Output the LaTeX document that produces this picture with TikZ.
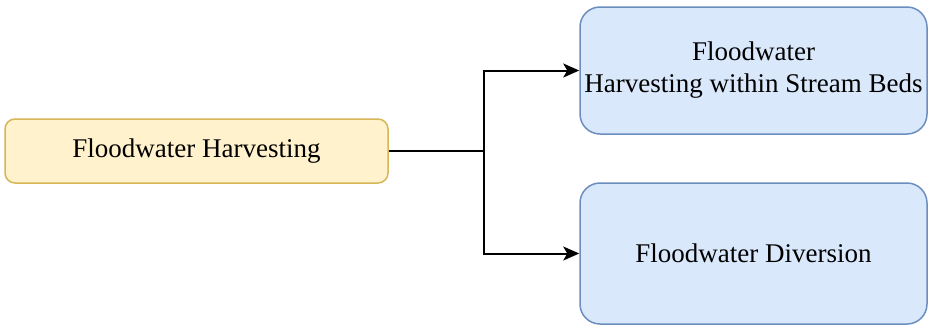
\documentclass[tikz,border=0pt]{standalone}
\usepackage{fontspec}
\setmainfont{Liberation Serif}
\usetikzlibrary{arrows.meta}
\definecolor{yfill}{HTML}{FFF2CC}
\definecolor{ydraw}{HTML}{D6B656}
\definecolor{bfill}{HTML}{DAE8FC}
\definecolor{bdraw}{HTML}{6C8EBF}
\tikzset{
  x=1pt, y=-1pt,
  yellowbox/.style={draw=ydraw, fill=yfill, line width=1.5pt, rounded corners=10pt,
    inner sep=0pt, align=center, font=\fontsize{27}{32}\selectfont},
  bluebox/.style={draw=bdraw, fill=bfill, line width=1.5pt, rounded corners=20pt,
    inner sep=0pt, align=center, font=\fontsize{27}{32}\selectfont},
  link/.style={draw=black, line width=2pt, -{Stealth[length=16pt,width=14pt,inset=4pt]}},
}
\begin{document}
\begin{tikzpicture}
\useasboundingbox (0,0) rectangle (928,325);
\node[yellowbox, minimum width=383pt, minimum height=64pt] (src) at (196.5,151) {Floodwater Harvesting};
\node[bluebox, minimum width=347pt, minimum height=127pt] (beds) at (753.5,70.5) {Floodwater\\Harvesting within Stream Beds};
\node[bluebox, minimum width=347pt, minimum height=141pt] (div) at (753.5,253.5) {Floodwater Diversion};
\coordinate (split) at (484,151);
\draw[link] (src.east) -- (split) |- (beds.west);
\draw[link] (split) |- (div.west);
\end{tikzpicture}
\end{document}
